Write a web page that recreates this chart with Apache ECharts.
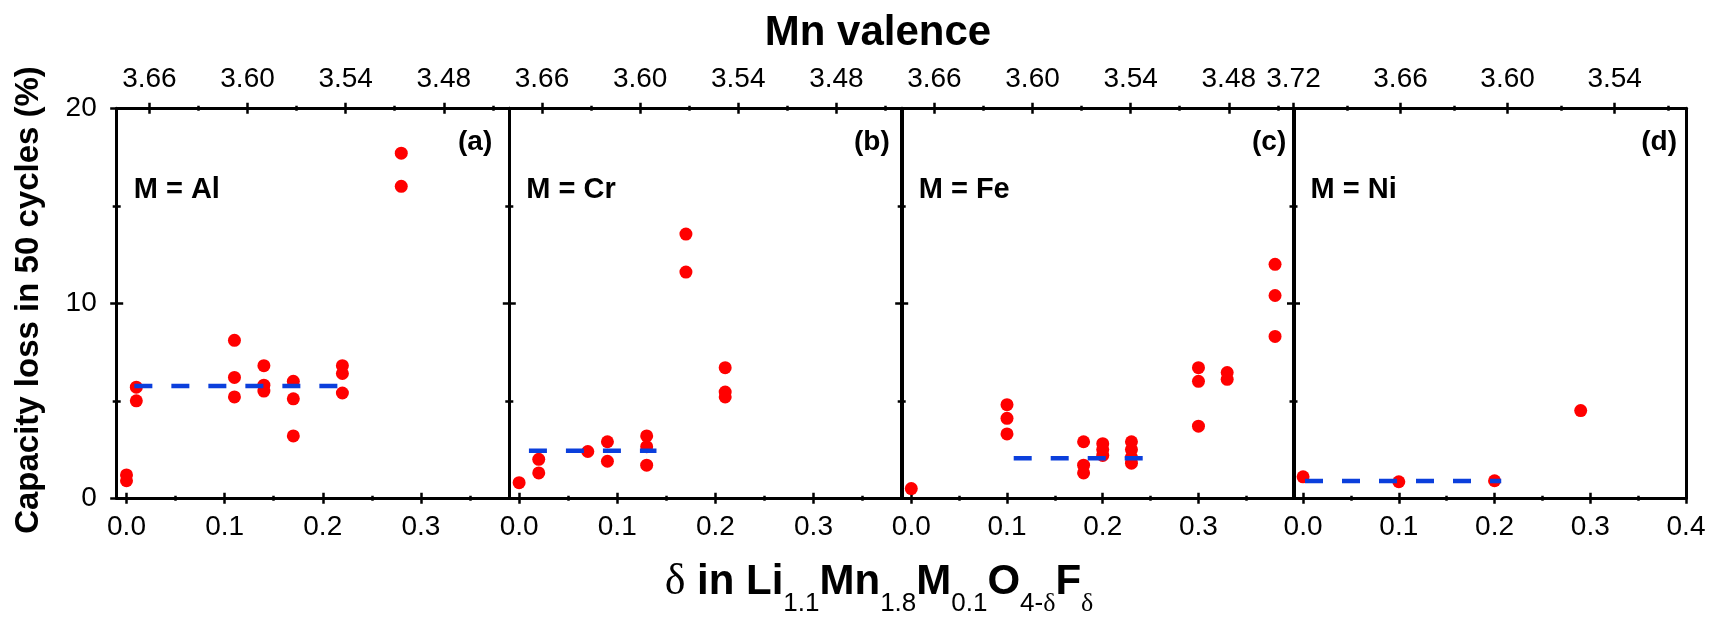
<!DOCTYPE html>
<html><head><meta charset="utf-8">
<script src="https://cdn.jsdelivr.net/npm/echarts@6/dist/echarts.min.js"></script>
<style>html,body{margin:0;padding:0;background:#fff}#c{width:1710px;height:620px}</style>
</head><body><div id="c"></div>
<script>
// ---------- data ----------
const panelLabels = ['(a)', '(b)', '(c)', '(d)'];
const metalLabels = ['M = Al', 'M = Cr', 'M = Fe', 'M = Ni'];

const deltaMin = [-0.01, -0.01, -0.01, -0.01];
const deltaMax = [0.39, 0.39, 0.40, 0.40];
const deltaTicks = [0, 0.1, 0.2, 0.3];
const deltaTicksD = [0, 0.1, 0.2, 0.3, 0.4];
const deltaMinor = [0.05, 0.15, 0.25, 0.35];

const valenceMin = [3.44, 3.44, 3.44, 3.50];
const valenceMax = [3.68, 3.68, 3.68, 3.72];
const valenceTicks = [3.66, 3.60, 3.54, 3.48];
const valenceMinor = [3.63, 3.57, 3.51, 3.45];
const valenceTicksD = [3.72, 3.66, 3.60, 3.54];
const valenceMinorD = [3.69, 3.63, 3.57, 3.51];

const lossMin = 0, lossMax = 20, lossStep = 10;

const alDelta = [0.0, 0.0, 0.01, 0.01, 0.11, 0.11, 0.11, 0.14, 0.14, 0.14, 0.17, 0.17, 0.17, 0.22, 0.22, 0.22, 0.28, 0.28];
const alLoss  = [1.2, 0.9, 5.7, 5.0, 8.1, 6.2, 5.2, 6.8, 5.8, 5.5, 6.0, 5.1, 3.2, 6.8, 6.4, 5.4, 17.7, 16.0];
const alAvgDelta = [0.008, 0.216];
const alAvgLoss  = [5.76, 5.76];

const crDelta = [0.0, 0.02, 0.02, 0.07, 0.09, 0.09, 0.13, 0.13, 0.13, 0.17, 0.17, 0.21, 0.21, 0.21];
const crLoss  = [0.8, 2.0, 1.3, 2.4, 2.9, 1.9, 3.2, 2.65, 1.7, 13.55, 11.6, 6.7, 5.45, 5.2];
const crAvgDelta = [0.01, 0.14];
const crAvgLoss  = [2.44, 2.44];

const feDelta = [0.0, 0.1, 0.1, 0.1, 0.18, 0.18, 0.18, 0.2, 0.2, 0.2, 0.23, 0.23, 0.23, 0.23, 0.3, 0.3, 0.3, 0.33, 0.33, 0.38, 0.38, 0.38];
const feLoss  = [0.5, 4.8, 4.1, 3.3, 2.9, 1.7, 1.3, 2.8, 2.5, 2.2, 2.9, 2.5, 2.1, 1.8, 6.7, 6.0, 3.7, 6.45, 6.1, 12.0, 10.4, 8.3];
const feAvgDelta = [0.107, 0.242];
const feAvgLoss  = [2.05, 2.05];

const niDelta = [0.0, 0.1, 0.2, 0.29];
const niLoss  = [1.1, 0.85, 0.9, 4.5];
const niAvgDelta = [0.002, 0.207];
const niAvgLoss  = [0.89, 0.89];

// ---------- styling / layout ----------
const FONT = "'Liberation Sans', Arial, sans-serif";
const NARROW = "'Liberation Sans Narrow', 'Arial Narrow', 'Liberation Sans', sans-serif";
const SERIF = "'Liberation Serif', 'DejaVu Serif', serif";
const gridLeft = [116.7, 509.3, 901.7, 1293.5];
const gridWidth = 392.5, gridTop = 108.3, gridHeight = 390;
const AXW = 3, TKW = 2.5;

const pts = (xs, ys) => xs.map((x, i) => [x, ys[i]]);
const scatterData = [pts(alDelta, alLoss), pts(crDelta, crLoss), pts(feDelta, feLoss), pts(niDelta, niLoss)];
const avgData = [pts(alAvgDelta, alAvgLoss), pts(crAvgDelta, crAvgLoss), pts(feAvgDelta, feAvgLoss), pts(niAvgDelta, niAvgLoss)];

const grids = [], xAxes = [], yAxes = [], series = [], graphics = [];
const labelStyle = { color: '#000', fontSize: 28, fontFamily: FONT };

function tickAxes(axisArr, gridIndex, position, min, max, inverse, major, minor, label) {
  const base = { type: 'value', gridIndex, position, min, max, inverse, splitLine: { show: false },
    axisLine: { show: false, onZero: false }, axisLabel: { show: false } };
  const tl = (inside, len, vals) => ({ show: true, inside, length: len, customValues: vals,
    lineStyle: { color: '#000', width: TKW } });
  const mainIdx = axisArr.length;
  axisArr.push(Object.assign({}, base, {
    axisLine: { show: true, onZero: false, lineStyle: { color: '#000', width: AXW } },
    axisTick: tl(false, 5.5, major),
    axisLabel: label
  }));
  axisArr.push(Object.assign({}, base, { axisTick: tl(true, 5.5, major) }));
  axisArr.push(Object.assign({}, base, { axisTick: tl(false, 2.5, minor) }));
  axisArr.push(Object.assign({}, base, { axisTick: tl(true, 2.5, minor) }));
  return mainIdx;
}

for (let g = 0; g < 4; g++) {
  grids.push({ left: gridLeft[g], top: gridTop, width: gridWidth, height: gridHeight });
  const dTicks = g === 3 ? deltaTicksD : deltaTicks;
  const vTicks = g === 3 ? valenceTicksD : valenceTicks;
  const vMinor = g === 3 ? valenceMinorD : valenceMinor;
  const xMain = tickAxes(xAxes, g, 'bottom', deltaMin[g], deltaMax[g], false, dTicks, deltaMinor,
    Object.assign({ show: true, customValues: dTicks, margin: 15, showMinLabel: true, showMaxLabel: true,
      formatter: v => Number(v).toFixed(1) }, labelStyle));
  tickAxes(xAxes, g, 'top', valenceMin[g], valenceMax[g], true, vTicks, vMinor,
    Object.assign({ show: true, customValues: vTicks, margin: 15, showMinLabel: true, showMaxLabel: true,
      formatter: v => Number(v).toFixed(2) }, labelStyle));

  const yBase = { type: 'value', gridIndex: g, position: 'left', min: lossMin, max: lossMax, interval: lossStep,
    splitLine: { show: false }, minorSplitLine: { show: false } };
  const yMain = yAxes.length;
  yAxes.push(Object.assign({}, yBase, {
    axisLine: { show: true, onZero: false, lineStyle: { color: '#000', width: AXW } },
    axisTick: { show: true, inside: false, length: 6.5, lineStyle: { color: '#000', width: TKW } },
    minorTick: { show: true, splitNumber: 2, length: 4, lineStyle: { color: '#000', width: TKW } },
    axisLabel: Object.assign({ show: g === 0, margin: 20 }, labelStyle)
  }));
  yAxes.push(Object.assign({}, yBase, {
    axisLine: { show: false, onZero: false },
    axisTick: { show: true, inside: true, length: 6.5, lineStyle: { color: '#000', width: TKW } },
    minorTick: { show: true, splitNumber: 2, length: 4, lineStyle: { color: '#000', width: TKW } },
    axisLabel: { show: false }
  }));
  yAxes.push(Object.assign({}, yBase, { position: 'right',
    axisLine: { show: true, onZero: false, lineStyle: { color: '#000', width: AXW } },
    axisTick: { show: false }, axisLabel: { show: false } }));

  series.push({ type: 'scatter', xAxisIndex: xMain, yAxisIndex: yMain, data: scatterData[g],
    symbol: 'circle', symbolSize: 13, itemStyle: { color: '#ff0000', opacity: 1 }, z: 2, silent: true });
  series.push({ type: 'line', xAxisIndex: xMain, yAxisIndex: yMain, data: avgData[g],
    symbol: 'none', lineStyle: { color: '#0b3fdc', width: 4.5, type: [18, 19], opacity: 1 }, z: 3, silent: true });

  const right = gridLeft[g] + gridWidth;
  const rOff = [17, 12, 8, 9][g];
  graphics.push({ type: 'text', x: right - rOff, y: 142, style: { text: panelLabels[g], fontSize: 28,
    fontWeight: 'bold', fontFamily: FONT, fill: '#000', align: 'right', verticalAlign: 'middle', textAlign: 'right', textVerticalAlign: 'middle' } });
  graphics.push({ type: 'text', x: gridLeft[g] + 17, y: 190, style: { text: metalLabels[g], fontSize: 29,
    fontWeight: 'bold', fontFamily: FONT, fill: '#000', align: 'left', verticalAlign: 'middle', textAlign: 'left', textVerticalAlign: 'middle' } });
}

graphics.push({ type: 'text', x: 878, y: 33, style: { text: 'Mn valence', fontSize: 42, fontWeight: 'bold',
  fontFamily: FONT, fill: '#000', align: 'center', verticalAlign: 'middle', textAlign: 'center', textVerticalAlign: 'middle' } });
graphics.push({ type: 'text', x: 29, y: 300, rotation: Math.PI / 2, style: { text: 'Capacity loss in 50 cycles (%)',
  fontSize: 33, fontWeight: 'bold', fontFamily: FONT, fill: '#000', align: 'center', verticalAlign: 'middle',
  textAlign: 'center', textVerticalAlign: 'middle' } });
graphics.push({ type: 'text', x: 879, y: 582, style: {
  text: '{d|δ}{m| in Li}{s|1.1}{m|Mn}{s|1.8}{m|M}{s|0.1}{m|O}{s|4-}{sd|δ}{m|F}{sd|δ}',
  fill: '#000', align: 'center', verticalAlign: 'middle', textAlign: 'center', textVerticalAlign: 'middle',
  rich: {
    m: { fontSize: 42, fontWeight: 'bold', fontFamily: FONT, lineHeight: 44, fill: '#000' },
    d: { fontSize: 44, fontFamily: SERIF, lineHeight: 44, fill: '#000' },
    s: { fontSize: 26, fontFamily: NARROW, lineHeight: 26, padding: [44, 0, 0, 0], fill: '#000' },
    sd: { fontSize: 26, fontFamily: SERIF, lineHeight: 26, padding: [44, 0, 0, 0], fill: '#000' }
  } } });

const chart = echarts.init(document.getElementById('c'), null, { renderer: 'canvas' });
chart.setOption({
  backgroundColor: '#fff',
  animation: false,
  grid: grids,
  xAxis: xAxes,
  yAxis: yAxes,
  series: series,
  graphic: graphics
});
</script>
</body></html>
